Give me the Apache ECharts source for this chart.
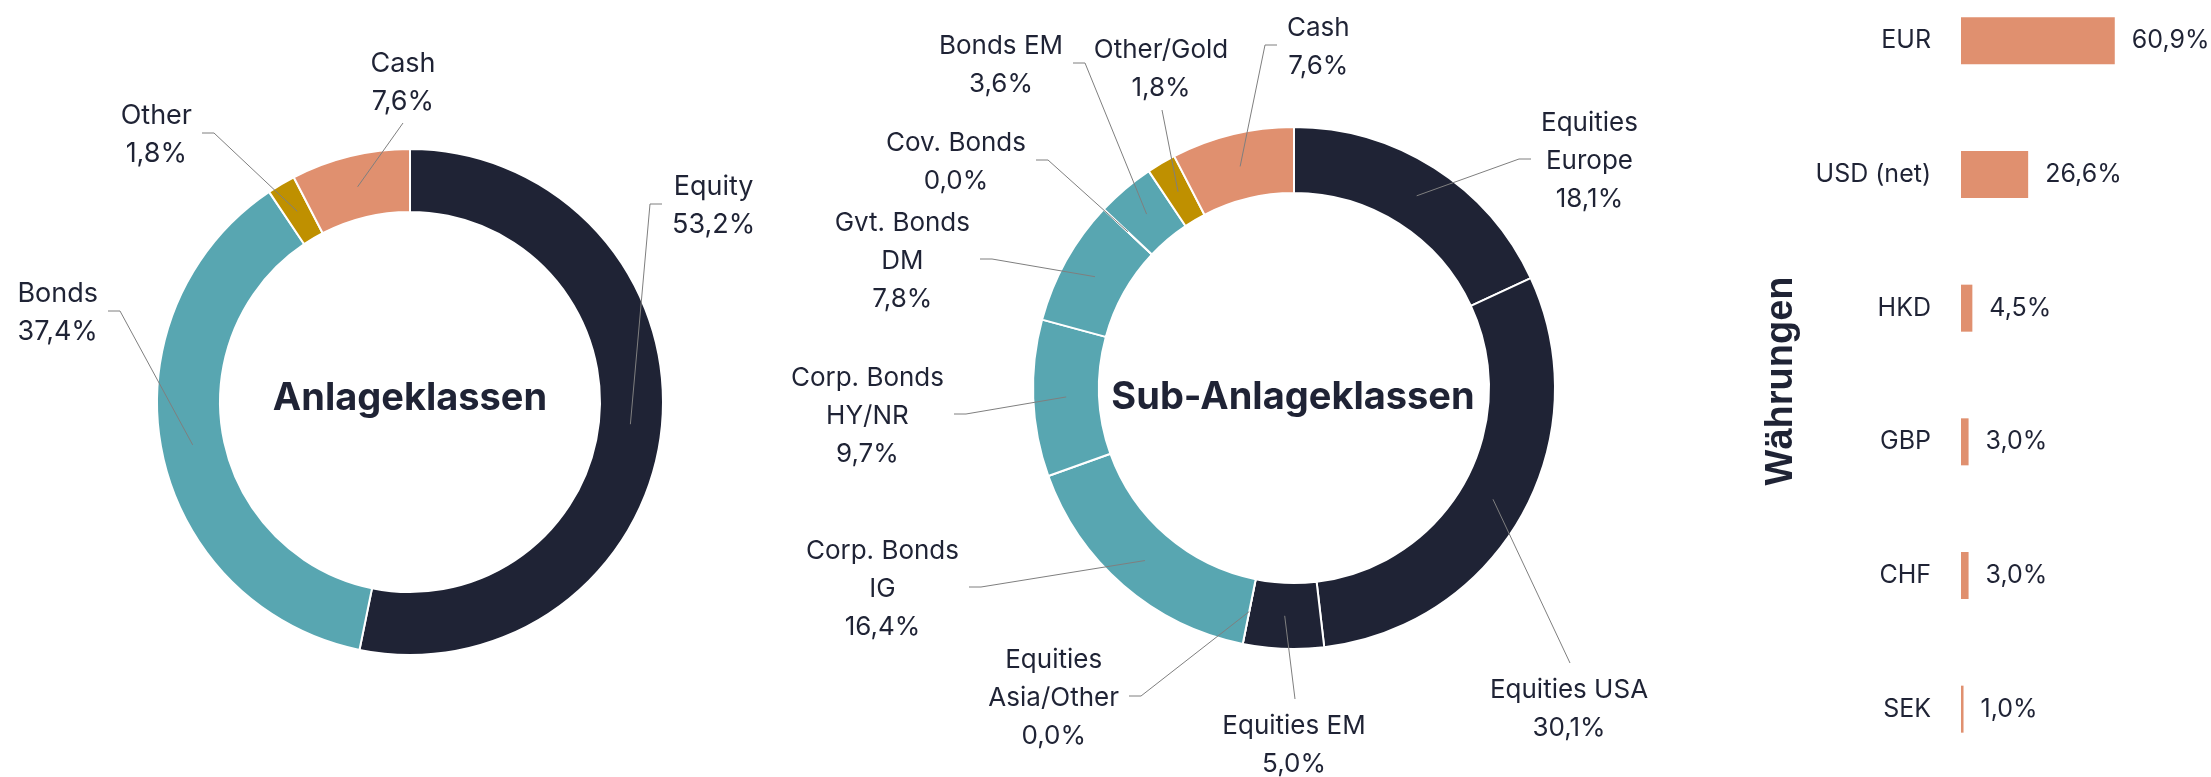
<!DOCTYPE html>
<html><head><meta charset="utf-8">
<script src="https://cdn.jsdelivr.net/npm/echarts@6/dist/echarts.min.js"></script>
<style>html,body{margin:0;padding:0;background:#fff}#c{width:2211px;height:777px}</style>
</head><body><div id="c"></div><script>
// ---------- data ----------
const assetClasses = ['Equity', 'Bonds', 'Other', 'Cash'];
const assetValues = [53.2, 37.4, 1.8, 7.6];
const subClasses = ['Equities\nEurope', 'Equities USA', 'Equities EM', 'Equities\nAsia/Other',
  'Corp. Bonds\nIG', 'Corp. Bonds\nHY/NR', 'Gvt. Bonds\nDM', 'Cov. Bonds', 'Bonds EM', 'Other/Gold', 'Cash'];
const subValues = [18.1, 30.1, 5.0, 0.0, 16.4, 9.7, 7.8, 0.0, 3.6, 1.8, 7.6];
const currencies = ['EUR', 'USD (net)', 'HKD', 'GBP', 'CHF', 'SEK'];
const currencyValues = [60.9, 26.6, 4.5, 3.0, 3.0, 1.0];

// ---------- styles ----------
const NAVY = '#1f2335', TEAL = '#58a6b1', GOLD = '#bf9000', SALMON = '#e0906f';
const INK = '#1f2335', LINE = '#7f7f7f';
const FONT = 'Inter';
const assetColors = [NAVY, TEAL, GOLD, SALMON];
const subColors = [NAVY, NAVY, NAVY, NAVY, TEAL, TEAL, TEAL, TEAL, TEAL, GOLD, SALMON];

const pieA = { center: [410, 402], radius: [190, 253], ringMid: 221.5 };
const pieB = { center: [1294, 388], radius: [195, 261], ringMid: 228 };

// label placement (leader end point, side where label sits)
const assetLabelPlace = [
  { side: 'right', ex: 662, ey: 204 },
  { side: 'left', ex: 108, ey: 311 },
  { side: 'left', ex: 202, ey: 133 },
  { side: 'above', ex: 403, ey: 123, lx: 403, ly: 83 }
];
const subLabelPlace = [
  { side: 'right', ex: 1531, ey: 159 },
  { side: 'below', ex: 1570, ey: 663, lx: 1569, ly: 709 },
  { side: 'below', ex: 1295, ey: 699, lx: 1294, ly: 745 },
  { side: 'left', ex: 1129, ey: 696 },
  { side: 'left', ex: 969, ey: 587 },
  { side: 'left', ex: 954, ey: 414 },
  { side: 'left', ex: 980, ey: 259 },
  { side: 'left', ex: 1036, ey: 160 },
  { side: 'left', ex: 1073, ey: 63 },
  { side: 'above', ex: 1162, ey: 110, lx: 1161, ly: 69 },
  { side: 'right', ex: 1277, ey: 45 }
];

function fmtPct(v) { return Number(v).toFixed(1).replace('.', ',') + '%'; }

function midAngle(values, i) {
  const total = values.reduce((a, b) => a + b, 0);
  let cum = 0;
  for (let k = 0; k < i; k++) cum += values[k];
  return -Math.PI / 2 + 2 * Math.PI * (cum + values[i] / 2) / total;
}

function makeLayout(pie, place, values) {
  return function (params) {
    const p = place[params.dataIndex];
    const cx = pie.center[0], cy = pie.center[1];
    const pts = params.labelLinePoints;
    let ang = (pts && pts[0]) ? Math.atan2(pts[0][1] - cy, pts[0][0] - cx) : midAngle(values, params.dataIndex);
    const ax = cx + pie.ringMid * Math.cos(ang), ay = cy + pie.ringMid * Math.sin(ang);
    const w = params.labelRect.width;
    let lx, ly, line;
    if (p.side === 'right') {
      lx = p.ex + 10 + w / 2; ly = p.ey + 2;
      line = [[ax, ay], [p.ex - 12, p.ey], [p.ex, p.ey]];
    } else if (p.side === 'left') {
      lx = p.ex - 10 - w / 2; ly = p.ey + 2;
      line = [[ax, ay], [p.ex + 12, p.ey], [p.ex, p.ey]];
    } else {
      lx = p.lx; ly = p.ly;
      line = [[ax, ay], [p.ex, p.ey], [p.ex, p.ey]];
    }
    return { x: lx, y: ly, align: 'center', verticalAlign: 'middle', labelLinePoints: line };
  };
}

// visible ring (no labels)
function ringSeries(pie, names, values, colors) {
  return {
    type: 'pie', z: 2,
    center: pie.center, radius: pie.radius,
    startAngle: 90, clockwise: true, silent: true, animation: false,
    itemStyle: { borderColor: '#ffffff', borderWidth: 2 },
    label: { show: false }, labelLine: { show: false },
    data: names.map((n, i) => ({ name: n, value: values[i], itemStyle: { color: colors[i] } }))
  };
}
// transparent twin carrying labels + leader lines above the ring
function labelSeries(pie, names, values, place, fontSize) {
  return {
    type: 'pie', z: 5,
    center: pie.center, radius: pie.radius,
    startAngle: 90, clockwise: true, avoidLabelOverlap: false, silent: true, animation: false,
    itemStyle: { color: 'rgba(0,0,0,0)', borderWidth: 0 },
    label: {
      show: true, position: 'outside', color: INK, fontFamily: FONT, fontSize: fontSize,
      lineHeight: 38, align: 'center',
      formatter: (p) => p.name + '\n' + fmtPct(p.value)
    },
    labelLine: { show: true, length: 10, length2: 10, lineStyle: { color: LINE, width: 1 } },
    labelLayout: makeLayout(pie, place, values),
    data: names.map((n, i) => ({ name: n, value: values[i] }))
  };
}

const chart = echarts.init(document.getElementById('c'), null, { renderer: 'canvas' });
chart.setOption({
  animation: false,
  backgroundColor: '#ffffff',
  graphic: [
    { type: 'text', z: 10, x: pieA.center[0], y: 399, style: { text: 'Anlageklassen', fontFamily: FONT, fontWeight: 'bold', fontSize: 38, fill: INK, align: 'center', verticalAlign: 'middle' } },
    { type: 'text', z: 10, x: pieB.center[0] - 1, y: 398, style: { text: 'Sub-Anlageklassen', fontFamily: FONT, fontWeight: 'bold', fontSize: 38, fill: INK, align: 'center', verticalAlign: 'middle' } }
  ],
  grid: { left: 1961, right: 48, top: -26, height: 802, containLabel: false, outerBoundsMode: 'none' },
  xAxis: { type: 'value', min: 0, max: 80, show: false },
  yAxis: {
    type: 'category', data: currencies, inverse: true,
    axisLine: { show: false }, axisTick: { show: false }, splitLine: { show: false },
    axisLabel: { margin: 30, color: INK, fontFamily: FONT, fontSize: 25 },
    name: 'Währungen', nameLocation: 'middle', nameRotate: 90, nameGap: 160,
    nameTextStyle: { fontFamily: 'Liberation Sans', fontWeight: 'bold', fontSize: 38, color: INK, padding: [0, 12, 0, 0] }
  },
  series: [
    ringSeries(pieA, assetClasses, assetValues, assetColors),
    ringSeries(pieB, subClasses, subValues, subColors),
    labelSeries(pieA, assetClasses, assetValues, assetLabelPlace, 27),
    labelSeries(pieB, subClasses, subValues, subLabelPlace, 26),
    {
      type: 'bar', data: currencyValues, barWidth: 47, silent: true,
      itemStyle: { color: SALMON },
      label: { show: true, position: 'right', distance: 17, color: INK, fontFamily: FONT, fontSize: 25, formatter: (p) => fmtPct(p.value) }
    }
  ]
});
</script></body></html>
